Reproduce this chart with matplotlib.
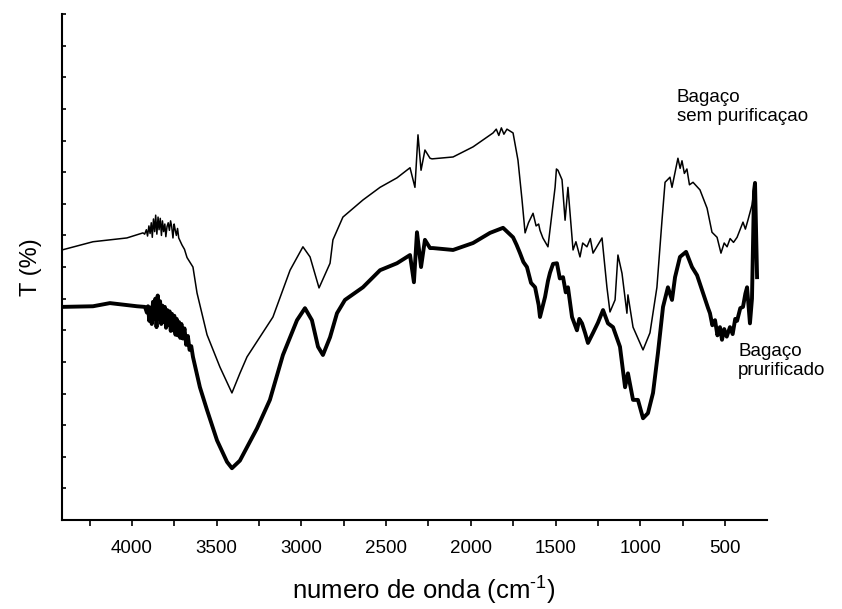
import matplotlib.pyplot as plt
import numpy as np
from matplotlib.ticker import MultipleLocator, NullFormatter

plt.rcParams['font.family'] = ['Liberation Sans', 'DejaVu Sans']
plt.rcParams['mathtext.default'] = 'regular'

# FTIR spectra (wavenumber cm-1, transmittance, arbitrary units)
wn_sem = [4413, 4230, 4030, 3935, 3925, 3915, 3908, 3900, 3893, 3886, 3880, 3873,
          3866, 3860, 3853, 3846, 3840, 3833, 3826, 3820, 3813, 3806, 3800, 3793,
          3786, 3779, 3772, 3765, 3758, 3751, 3745, 3738, 3731, 3724, 3717, 3705,
          3690, 3675, 3640, 3616, 3557, 3481, 3410, 3363, 3321, 3168, 3067, 2991,
          2949, 2896, 2831, 2814, 2755, 2637, 2536, 2436, 2359, 2330, 2312, 2294,
          2271, 2241, 2229, 2105, 1987, 1869, 1850, 1835, 1820, 1805, 1787, 1751,
          1722, 1698, 1680, 1660, 1633, 1615, 1600, 1592, 1575, 1545, 1503, 1495,
          1486, 1462, 1444, 1427, 1397, 1380, 1356, 1340, 1315, 1295, 1279, 1250,
          1226, 1197, 1179, 1149, 1132, 1108, 1079, 1073, 1043, 984, 943, 902, 872,
          854, 825, 813, 795, 778, 765, 754, 740, 725, 710, 689, 648, 606, 577, 547,
          524, 505, 488, 470, 450, 429, 410, 394, 380, 364, 341, 323]
t_sem = [42.7, 44.0, 44.6, 45.4, 45.2, 45.9, 44.9, 46.5, 45.3, 47.0, 44.7, 47.6,
         45.6, 48.2, 45.2, 47.9, 45.9, 47.7, 45.0, 47.3, 45.6, 46.8, 44.8, 46.4,
         47.0, 45.8, 47.3, 46.3, 44.6, 46.8, 45.9, 45.0, 46.1, 44.6, 44.2, 43.5,
         42.8, 41.5, 40.0, 35.9, 29.3, 24.2, 20.1, 23.2, 25.8, 32.1, 39.5, 43.2,
         41.6, 36.7, 40.6, 44.3, 47.9, 50.6, 52.6, 54.1, 55.7, 52.6, 60.9, 55.3,
         58.5, 57.2, 57.1, 57.4, 59.0, 61.2, 61.8, 60.8, 62.0, 61.0, 61.8, 61.2,
         56.9, 50.6, 45.4, 47.0, 48.5, 46.5, 46.8, 45.8, 44.6, 43.2, 52.6, 55.5,
         55.3, 53.8, 47.4, 52.6, 42.7, 44.0, 41.6, 43.8, 43.2, 44.5, 42.2, 43.5,
         44.6, 36.8, 32.9, 34.8, 41.9, 39.0, 32.7, 35.6, 30.5, 26.9, 29.6, 36.8,
         47.4, 53.4, 54.2, 52.6, 55.0, 57.2, 55.6, 56.8, 54.8, 55.5, 53.0, 53.4,
         52.2, 49.3, 45.5, 44.7, 42.2, 43.8, 43.2, 44.5, 43.9, 44.7, 46.0, 47.1,
         46.0, 47.5, 49.8, 53.3]

wn_pur = [4413, 4230, 4130, 3970, 3923, 3912, 3905, 3898, 3890, 3883, 3876, 3869,
          3862, 3855, 3848, 3841, 3834, 3827, 3820, 3813, 3806, 3799, 3792, 3785,
          3778, 3771, 3764, 3757, 3750, 3743, 3736, 3729, 3722, 3715, 3708, 3700,
          3690, 3680, 3670, 3660, 3650, 3640, 3599, 3557, 3498, 3439, 3410, 3363,
          3262, 3186, 3109, 3026, 2979, 2938, 2902, 2873, 2831, 2790, 2743, 2637,
          2536, 2436, 2359, 2336, 2318, 2294, 2271, 2241, 2224, 2105, 1987, 1887,
          1810, 1751, 1730, 1710, 1690, 1669, 1645, 1621, 1600, 1592, 1562, 1545,
          1533, 1515, 1492, 1475, 1456, 1440, 1427, 1403, 1374, 1360, 1344, 1325,
          1309, 1279, 1250, 1220, 1191, 1161, 1120, 1090, 1073, 1043, 1014, 984, 955,
          925, 896, 866, 837, 813, 795, 766, 730, 695, 665, 630, 600, 589, 575, 559,
          545, 530, 518, 505, 490, 471, 455, 440, 429, 410, 394, 380, 370, 353, 341,
          329, 323, 311]
t_pur = [33.7, 33.8, 34.3, 33.8, 33.7, 32.8, 33.8, 31.5, 33.6, 31.0, 34.5, 31.8,
         35.0, 30.5, 35.5, 31.8, 34.6, 31.0, 33.9, 31.3, 33.7, 30.4, 33.2, 30.8,
         33.0, 29.9, 32.6, 30.0, 32.3, 29.3, 31.8, 29.2, 31.3, 28.8, 31.0, 28.7,
         30.3, 27.7, 29.1, 26.9, 27.5, 25.8, 21.0, 17.4, 12.6, 9.2, 8.2, 9.4,
         14.5, 19.0, 26.1, 31.6, 33.5, 31.6, 27.4, 26.1, 28.9, 32.7, 34.8, 36.8,
         39.5, 40.6, 41.9, 37.6, 45.5, 40.0, 44.3, 43.0, 43.0, 42.7, 43.8, 45.4,
         46.2, 44.7, 43.5, 42.2, 40.8, 40.0, 37.5, 36.8, 34.0, 32.1, 35.3, 37.8,
         39.1, 40.5, 40.6, 38.2, 38.4, 36.0, 36.8, 32.1, 30.0, 31.8, 31.1, 29.5,
         28.0, 29.6, 31.2, 33.2, 31.1, 30.5, 27.4, 21.0, 23.2, 19.0, 19.0, 16.1,
         16.9, 20.1, 26.4, 33.7, 36.8, 34.8, 38.4, 41.6, 42.4, 40.0, 38.7, 35.9,
         33.5, 32.7, 30.8, 31.6, 29.2, 30.5, 28.5, 30.2, 29.0, 30.5, 29.4, 31.8,
         31.5, 33.5, 33.7, 35.8, 36.8, 31.1, 35.0, 52.0, 53.3, 38.4]

fig = plt.figure(figsize=(8.42, 6.09), dpi=100)
ax = fig.add_axes([0.0736, 0.146, 0.8374, 0.831])

ax.plot(wn_sem, t_sem, color='black', lw=1.1)
ax.plot(wn_pur, t_pur, color='black', lw=2.8)

ax.set_xlim(4413, 252)
ax.set_ylim(0, 80)

for s in ['top', 'right']:
    ax.spines[s].set_visible(False)
for s in ['left', 'bottom']:
    ax.spines[s].set_linewidth(1.5)

ax.xaxis.set_major_locator(MultipleLocator(500))
ax.xaxis.set_minor_locator(MultipleLocator(250))
ax.yaxis.set_major_locator(MultipleLocator(5))
ax.yaxis.set_major_formatter(NullFormatter())
ax.tick_params(axis='x', which='major', direction='out', length=4, width=1.2,
               labelsize=13.5, pad=10)
ax.tick_params(axis='x', which='minor', direction='out', length=4, width=1.2)
ax.tick_params(axis='y', which='major', direction='in', length=3, width=1.2)

ax.set_xlabel('numero de onda (cm$^{\u2010' + '1}$)', fontsize=18.5)
ax.xaxis.set_label_coords(0.513, -0.108)
ax.set_ylabel('T (%)', fontsize=17, labelpad=11)

ax.text(0.872, 0.852, 'Bagaço\nsem purificaçao', transform=ax.transAxes,
        fontsize=13.5, ha='left', va='top', linespacing=1.15)
ax.text(0.959, 0.35, 'Bagaço\nprurificado', transform=ax.transAxes,
        fontsize=13.5, ha='left', va='top', linespacing=1.15)

plt.savefig('out.png', dpi=100)
